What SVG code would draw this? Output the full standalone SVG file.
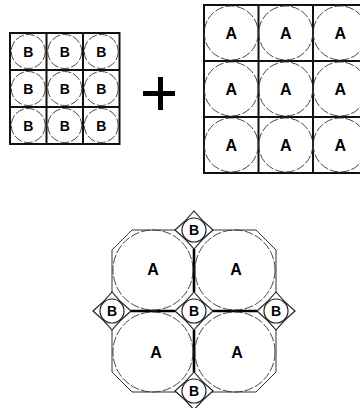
<svg xmlns="http://www.w3.org/2000/svg" width="360" height="408" viewBox="0 0 360 408">
<style>
.grid{fill:none;stroke:#111;stroke-width:2}
.c{fill:none;stroke:#333;stroke-width:0.9;stroke-dasharray:9 2}
.cb{fill:#fff;stroke:#222;stroke-width:1.2}
.lbl{font-family:"Liberation Sans",Arial,sans-serif;font-weight:bold;fill:#000;text-anchor:middle}
.b{font-size:14px}
.a{font-size:16px}
.thin{fill:none;stroke:#333;stroke-width:1}
.thick{fill:none;stroke:#000;stroke-width:2.6}
.dia{fill:#fff;stroke:#222;stroke-width:1.2}
</style>
<rect width="360" height="408" fill="#fff"/>

<g id="grid-B">
  <rect class="grid" x="10" y="33" width="109.5" height="111"/>
  <path class="grid" d="M46.5 33V144M83 33V144M10 70H119.5M10 107H119.5"/>
  <g id="b-circles">
    <circle class="c" cx="28.25" cy="51.5" r="17"/><circle class="c" cx="64.75" cy="51.5" r="17"/><circle class="c" cx="101.25" cy="51.5" r="17"/>
    <circle class="c" cx="28.25" cy="88.5" r="17"/><circle class="c" cx="64.75" cy="88.5" r="17"/><circle class="c" cx="101.25" cy="88.5" r="17"/>
    <circle class="c" cx="28.25" cy="125.5" r="17"/><circle class="c" cx="64.75" cy="125.5" r="17"/><circle class="c" cx="101.25" cy="125.5" r="17"/>
  </g>
  <g class="lbl b">
    <text x="28.25" y="56.5">B</text><text x="64.75" y="56.5">B</text><text x="101.25" y="56.5">B</text>
    <text x="28.25" y="93.5">B</text><text x="64.75" y="93.5">B</text><text x="101.25" y="93.5">B</text>
    <text x="28.25" y="130.5">B</text><text x="64.75" y="130.5">B</text><text x="101.25" y="130.5">B</text>
  </g>
</g>

<g id="plus">
  <rect x="158" y="77" width="5" height="33" fill="#000"/>
  <rect x="143" y="91" width="32" height="5" fill="#000"/>
</g>

<g id="grid-A">
  <rect class="grid" x="204" y="5" width="163.5" height="168"/>
  <path class="grid" d="M258.5 5V173M313 5V173M204 61H367.5M204 117H367.5"/>
  <g>
    <circle class="c" cx="231.25" cy="33" r="27"/><circle class="c" cx="285.75" cy="33" r="27"/><circle class="c" cx="340.25" cy="33" r="27"/>
    <circle class="c" cx="231.25" cy="89" r="27"/><circle class="c" cx="285.75" cy="89" r="27"/><circle class="c" cx="340.25" cy="89" r="27"/>
    <circle class="c" cx="231.25" cy="145" r="27"/><circle class="c" cx="285.75" cy="145" r="27"/><circle class="c" cx="340.25" cy="145" r="27"/>
  </g>
  <g class="lbl a">
    <text x="231.25" y="39">A</text><text x="285.75" y="39">A</text><text x="340.25" y="39">A</text>
    <text x="231.25" y="95">A</text><text x="285.75" y="95">A</text><text x="340.25" y="95">A</text>
    <text x="231.25" y="151">A</text><text x="285.75" y="151">A</text><text x="340.25" y="151">A</text>
  </g>
</g>

<g id="combined">
  <path class="thin" d="M112 250V372L132 392H256L276 372V250L256 230H132Z"/>
  <path class="thick" d="M194 249V292M194 330V372M131 311H175M213 311H257"/>
  <circle class="c" cx="153" cy="270" r="40"/>
  <circle class="c" cx="235" cy="270" r="40"/>
  <circle class="c" cx="153" cy="352" r="40"/>
  <circle class="c" cx="235" cy="352" r="40"/>
  <g id="diamonds">
    <path class="dia" d="M175 230Q186 221 194 211Q202 221 213 230Q202 239 194 249Q186 239 175 230Z"/>
    <path class="dia" d="M93 311Q104 302 112 292Q120 302 131 311Q120 320 112 330Q104 320 93 311Z"/>
    <path class="dia" d="M175 311Q186 302 194 292Q202 302 213 311Q202 320 194 330Q186 320 175 311Z"/>
    <path class="dia" d="M257 311Q268 302 276 292Q284 302 295 311Q284 320 276 330Q268 320 257 311Z"/>
    <path class="dia" d="M175 391Q186 382 194 372Q202 382 213 391Q202 400 194 410Q186 400 175 391Z"/>
  </g>
  <g id="b-atoms">
    <circle class="cb" cx="194" cy="230" r="12"/>
    <circle class="cb" cx="112" cy="311" r="12"/>
    <circle class="cb" cx="194" cy="311" r="12"/>
    <circle class="cb" cx="276" cy="311" r="12"/>
    <circle class="cb" cx="194" cy="391" r="12"/>
  </g>
  <g class="lbl">
    <text class="a" x="153" y="275">A</text>
    <text class="a" x="236" y="275">A</text>
    <text class="a" x="156" y="358">A</text>
    <text class="a" x="237" y="358">A</text>
    <text class="b" x="194" y="235">B</text>
    <text class="b" x="112" y="316">B</text>
    <text class="b" x="194" y="316">B</text>
    <text class="b" x="276" y="316">B</text>
    <text class="b" x="194" y="396">B</text>
  </g>
</g>
</svg>
